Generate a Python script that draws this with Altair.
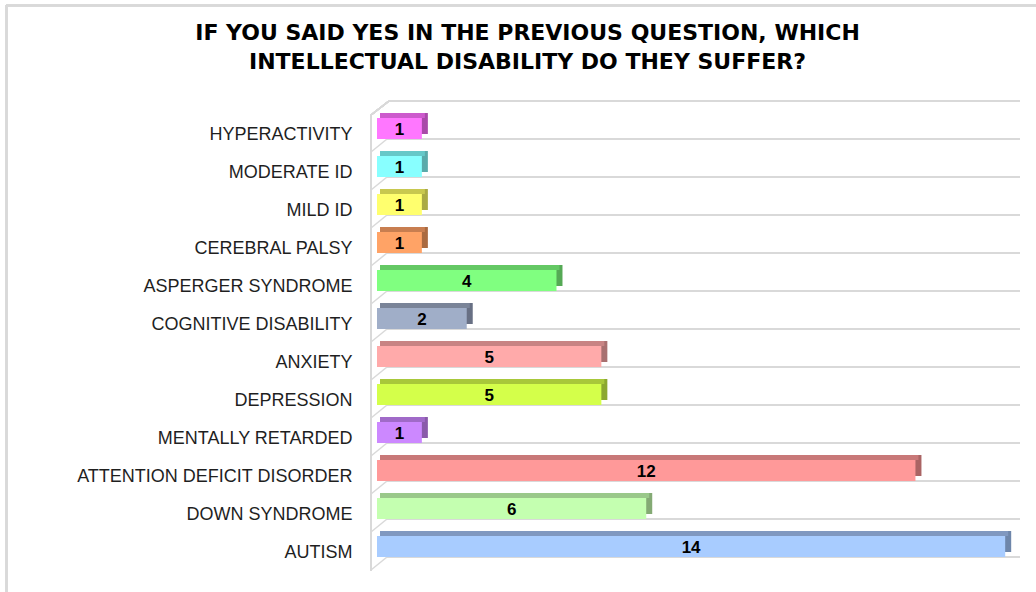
import altair as alt
import pandas as pd

# ---------------- data ----------------
categories = [
    "HYPERACTIVITY", "MODERATE ID", "MILD ID", "CEREBRAL PALSY",
    "ASPERGER SYNDROME", "COGNITIVE DISABILITY", "ANXIETY", "DEPRESSION",
    "MENTALLY RETARDED", "ATTENTION DEFICIT DISORDER", "DOWN SYNDROME", "AUTISM",
]
values = [1, 1, 1, 1, 4, 2, 5, 5, 1, 12, 6, 14]

title_lines = [
    "IF YOU SAID YES IN THE PREVIOUS QUESTION, WHICH",
    "INTELLECTUAL DISABILITY DO THEY SUFFER?",
]

# palettes (front face, top face, side face)
front_colors = ["#FF77FF", "#88FFFF", "#FFFF6E", "#FFA366", "#80FF80", "#A0AEC8",
                "#FFAAAA", "#D4FF4A", "#CC88FF", "#FF9999", "#C4FFB0", "#A8CCFF"]
top_colors = ["#CC5ACC", "#66C8C8", "#C8C84F", "#C87E50", "#64C864", "#7A8498",
              "#C88484", "#A8C83A", "#A06AC8", "#C87878", "#9AC88A", "#8098C0"]
side_colors = ["#A94AA9", "#5AAAAA", "#AAAA44", "#AA6A40", "#55A955", "#687084",
               "#A87070", "#8CA830", "#8A5AAA", "#AA6464", "#84AA74", "#6E86AA"]

df = pd.DataFrame({"category": categories, "value": values})

W, H = 643, 456
PAD_L, PAD_T = 377, 101
GRID = "#D9D9D9"

xs = alt.Scale(domain=[0, 14.33], nice=False, zero=True)
ys = alt.Scale(paddingInner=0, paddingOuter=0)

y_axis = alt.Axis(
    labelFont="Liberation Sans", labelFontSize=18, labelColor="#1F1F1F",
    labelPadding=25, labelOffset=15, ticks=False, domain=False, grid=False,
    labelLimit=400,
)


def ycat(**kw):
    return alt.Y("category:N", sort=categories, scale=ys, title=None, axis=y_axis, **kw)


base = alt.Chart(df)

# outer chart border (left + top)
border_top = base.mark_rule(color=GRID, strokeWidth=2).encode(
    x=alt.value(-PAD_L + 6), x2=alt.value(1036 - PAD_L), y=alt.value(-PAD_T + 5.5)
)
border_left = base.mark_rule(color=GRID, strokeWidth=2).encode(
    x=alt.value(-PAD_L + 6.5), y=alt.value(-PAD_T + 5), y2=alt.value(592 - PAD_T)
)

# 3D wall
wall = base.mark_rule(color=GRID, strokeWidth=1.5).encode(
    x=alt.value(-6), y=alt.value(14), y2=alt.value(H + 14)
)
grid_top = base.mark_rule(color=GRID, strokeWidth=2).encode(
    x=alt.value(12), x2=alt.value(W), y=alt.value(0)
)
grid = base.mark_rule(color=GRID, strokeWidth=2).encode(
    x=alt.value(10), x2=alt.value(W), y=ycat(bandPosition=1)
)
diag = base.mark_point(shape="M-1,0.8125L1,-0.8125", filled=False, size=256, color=GRID,
                       strokeWidth=1.5, opacity=1, yOffset=6.5).encode(
    x=alt.value(2), y=ycat(bandPosition=1)
)
diag_top = base.mark_point(shape="M-1,0.78L1,-0.78", filled=False, size=324,
                           color=GRID, strokeWidth=1.5, opacity=1).encode(
    x=alt.value(3), y=alt.value(7)
)

# bars: side face, top face, front face
side = base.mark_bar(height=21, xOffset=6, yOffset=3.5).encode(
    x=alt.X("value:Q", scale=xs, axis=None),
    y=ycat(),
    color=alt.Color("category:N", scale=alt.Scale(domain=categories, range=side_colors), legend=None),
)
top = base.mark_bar(height=5, xOffset=3, yOffset=-4.5).encode(
    x=alt.X("value:Q", scale=xs, axis=None),
    y=ycat(),
    color=alt.Color("category:N", scale=alt.Scale(domain=categories, range=top_colors), legend=None),
)
front = base.mark_bar(height=21, yOffset=8.5).encode(
    x=alt.X("value:Q", scale=xs, axis=None),
    y=ycat(),
    color=alt.Color("category:N", scale=alt.Scale(domain=categories, range=front_colors), legend=None),
)
labels = base.transform_calculate(mid="datum.value / 2").mark_text(
    font="Liberation Sans", fontSize=17, fontWeight="bold", color="#000000",
    baseline="middle", align="center", yOffset=9.5,
).encode(
    x=alt.X("mid:Q", scale=xs, axis=None),
    y=ycat(),
    text=alt.Text("value:Q"),
)

chart = alt.layer(
    border_top, border_left, wall, grid_top, grid, diag, diag_top,
    side, top, front, labels,
).resolve_scale(color="independent").properties(
    width=W, height=H,
    autosize=alt.AutoSizeParams(type="none"),
    padding={"left": PAD_L, "top": PAD_T, "right": 1036 - PAD_L - W, "bottom": 592 - PAD_T - H},
    background="white",
    title=alt.TitleParams(
        text=title_lines, font="DejaVu Sans", fontSize=22, fontWeight="bold",
        color="#000000", anchor="middle", frame="group", dx=-171, offset=-70,
        lineHeight=29,
    ),
).configure_view(stroke=None)

chart.save("out.html", embed_options={"renderer": "svg", "actions": False})
